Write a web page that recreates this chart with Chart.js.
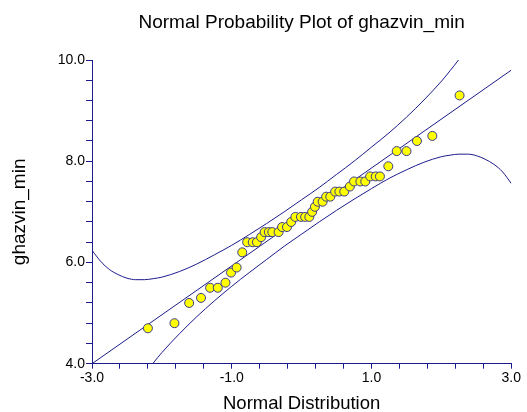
<!DOCTYPE html>
<html><head><meta charset="utf-8">
<script src="https://cdn.jsdelivr.net/npm/chart.js@4.4.1/dist/chart.umd.min.js"></script>
<style>html,body{margin:0;padding:0;background:#fff;overflow:hidden}</style>
</head><body>
<canvas id="c" width="527" height="412"></canvas>
<script>
// Observed points: normal scores (x) and sorted values (y)
const zScores = [-2.20,-1.82,-1.61,-1.44,-1.31,-1.20,-1.09,-1.01,-0.93,-0.85,
  -0.78,-0.70,-0.64,-0.58,-0.53,-0.47,-0.42,-0.33,-0.28,-0.21,
  -0.15,-0.09,-0.01,0.05,0.11,0.15,0.19,0.23,0.30,0.35,
  0.41,0.48,0.54,0.61,0.69,0.75,0.84,0.91,0.98,1.06,
  1.12,1.24,1.36,1.50,1.65,1.87,2.26];
const values = [4.7,4.8,5.2,5.3,5.5,5.5,5.6,5.8,5.9,6.2,
  6.4,6.4,6.4,6.5,6.6,6.6,6.6,6.6,6.7,6.7,
  6.8,6.9,6.9,6.9,6.9,7.0,7.1,7.2,7.2,7.3,
  7.3,7.4,7.4,7.4,7.5,7.6,7.6,7.6,7.7,7.7,
  7.7,7.9,8.2,8.2,8.4,8.5,9.3];

// Reference line
const lineZ = [-3, 3];
const lineValues = [4.0, 9.8];

// Confidence band curves
const bandZ = [-3,-2.875,-2.75,-2.625,-2.5,-2.375,-2.25,-2.125,-2,-1.75,-1.5,-1.25,-1,-0.75,-0.5,-0.25,0,
  0.25,0.5,0.75,1,1.25,1.5,1.75,2,2.125,2.25,2.375,2.5,2.625,2.75,2.875,3];
const upperBand = [6.24,6.02,5.86,5.76,5.69,5.66,5.66,5.68,5.71,5.82,5.97,6.15,6.34,6.55,6.77,7.00,7.24,
  7.48,7.74,8.00,8.28,8.56,8.87,9.21,9.58,9.79,10.01,10.26,10.53,10.83,11.18,11.58,12.04];
const lowerBand = [1.76,2.23,2.62,2.97,3.27,3.54,3.79,4.01,4.22,4.59,4.93,5.24,5.53,5.80,6.06,6.32,6.56,
  6.80,7.03,7.25,7.46,7.66,7.83,7.98,8.09,8.12,8.14,8.14,8.11,8.04,7.94,7.79,7.56];

// Axis ticks
const xTicks = [-3,-2.6,-2.2,-1.8,-1.4,-1,-0.6,-0.2,0.2,0.6,1,1.4,1.8,2.2,2.6,3];
const xTickLabels = ['-3.0','','','','','-1.0','','','','','1.0','','','','','3.0'];
const yTicks = [4,4.4,4.8,5.2,5.6,6,6.4,6.8,7.2,7.6,8,8.4,8.8,9.2,9.6,10];
const yTickLabels = ['4.0','','','','','6.0','','','','','8.0','','','','','10.0'];

const title = 'Normal Probability Plot of ghazvin_min';
const xTitle = 'Normal Distribution';
const yTitle = 'ghazvin_min';

const NAVY = '#1c1c8c';
const FONT = "'Liberation Sans', Arial, sans-serif";
const pts = (xs, ys) => xs.map((x, i) => ({x, y: ys[i]}));

new Chart(document.getElementById('c'), {
  type: 'scatter',
  data: {
    datasets: [
      { data: pts(zScores, values), pointRadius: 4.5, pointHoverRadius: 4.5,
        backgroundColor: '#ffff00', borderColor: '#3a3a8a', borderWidth: 1, order: 0 },
      { data: pts(lineZ, lineValues), showLine: true, pointRadius: 0,
        borderColor: NAVY, borderWidth: 1, order: 1 },
      { data: pts(bandZ, upperBand), showLine: true, pointRadius: 0, cubicInterpolationMode: 'monotone',
        borderColor: NAVY, borderWidth: 1, order: 1 },
      { data: pts(bandZ, lowerBand), showLine: true, pointRadius: 0, cubicInterpolationMode: 'monotone',
        borderColor: NAVY, borderWidth: 1, order: 1 }
    ]
  },
  options: {
    responsive: false,
    animation: false,
    events: [],
    layout: { padding: { left: 0, right: 15.7, top: 0, bottom: 0 } },
    plugins: {
      legend: { display: false },
      tooltip: { enabled: false },
      title: {
        display: true, text: title, fullSize: false, color: '#000',
        font: { family: FONT, size: 19, weight: 'normal', lineHeight: 1.2 },
        padding: { top: 11.3, bottom: 25.9 }
      }
    },
    scales: {
      x: {
        type: 'linear', min: -3, max: 3,
        afterBuildTicks: s => { s.ticks = xTicks.map(v => ({value: v})); },
        afterFit: s => { s.height = 48.3; },
        ticks: { autoSkip: false, maxRotation: 0, color: '#000', padding: 1,
          font: { family: FONT, size: 14 },
          callback: (v, i) => xTickLabels[i] },
        grid: { drawOnChartArea: false, drawTicks: true, tickLength: 5, color: NAVY },
        border: { display: true, color: NAVY, width: 1 },
        title: { display: true, text: xTitle, color: '#000',
          font: { family: FONT, size: 18.5, lineHeight: 1.2 }, padding: { top: 0, bottom: -3 } }
      },
      y: {
        type: 'linear', min: 4, max: 10,
        afterBuildTicks: s => { s.ticks = yTicks.map(v => ({value: v})); },
        afterFit: s => { s.width = 92; },
        ticks: { autoSkip: false, color: '#000', padding: 1,
          font: { family: FONT, size: 14 },
          callback: (v, i) => yTickLabels[i] },
        grid: { drawOnChartArea: false, drawTicks: true, tickLength: 6, color: NAVY },
        border: { display: true, color: NAVY, width: 1 },
        title: { display: true, text: yTitle, color: '#000',
          font: { family: FONT, size: 19, lineHeight: 1.2 }, padding: { top: 8, bottom: 0 } }
      }
    }
  }
});
</script>
</body></html>
